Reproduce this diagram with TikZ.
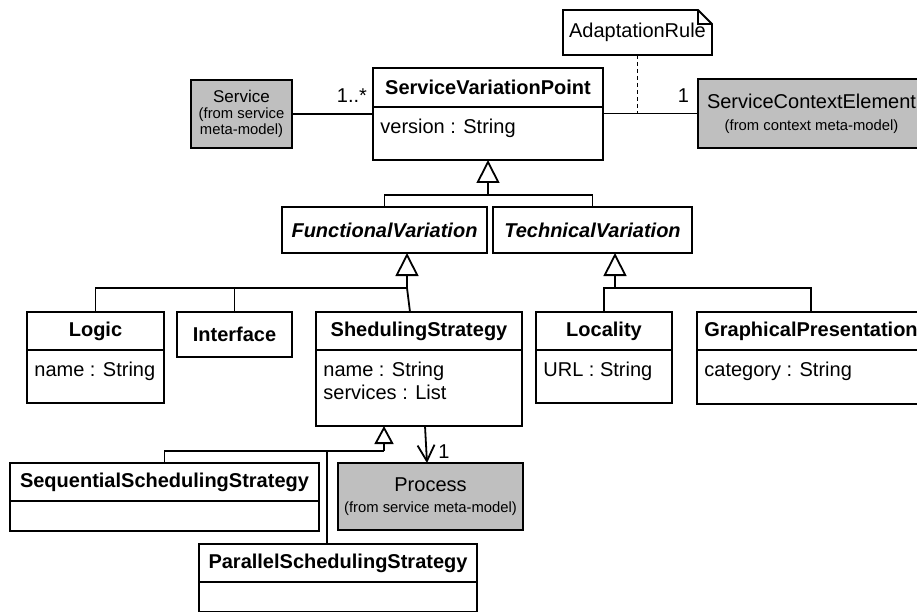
\documentclass[tikz,border=0pt]{standalone}
\usepackage{fontspec}
\setmainfont{Liberation Sans}
\usetikzlibrary{arrows.meta,positioning}

\begin{document}
\begin{tikzpicture}[x=1pt,y=-1pt,line width=1.8pt,
  every node/.style={font=\fontsize{20}{23}\selectfont,inner sep=3pt},
  hd/.style={draw,fill=white,outer sep=0pt,minimum height=38,font=\fontsize{20}{23}\selectfont\bfseries},
  abs/.style={hd,minimum height=46,font=\fontsize{20}{23}\selectfont\bfseries\itshape},
  bd/.style={draw,fill=white,outer sep=0pt},
  attr/.style={anchor=north west,inner xsep=6.5pt,inner ysep=11pt,align=left},
  ext/.style={draw,fill=black!25,outer sep=0pt,align=center,font=\fontsize{14.8}{16}\selectfont},
  gen/.style={-{Triangle[open,length=23pt,width=23pt]}},
  gensm/.style={-{Triangle[open,length=18pt,width=19pt]}},
  assoc/.style={-{Straight Barb[length=16pt,width=17pt]}}]
 \useasboundingbox (0,0) rectangle (917,612);
 \clip (0,0) rectangle (917,612);
 % root of the variation points
 \node[hd,minimum width=230,minimum height=39] (SVP) at (488,87.5) {ServiceVariationPoint};
 \node[bd,minimum width=230,minimum height=53,below=0pt of SVP,label={[attr]north west:{version : String}}] (SVPB) {};
 \node[ext,minimum width=101,minimum height=68] (Service) at (241.5,114) {{\fontsize{17}{17}\selectfont Service}\\(from service\\meta-model)};
 \node[ext,minimum width=227,minimum height=69] (SCE) at (811.5,113.5) {{\fontsize{20}{20}\selectfont ServiceContextElement}\\[6pt](from context meta-model)};
 \node[minimum width=149,minimum height=45,outer sep=0pt] (AR) at (637.5,32.5) {AdaptationRule};
 \draw (AR.north west) -- ([xshift=-14pt]AR.north east) -- ([yshift=-14pt]AR.north east) -- (AR.south east) -- (AR.south west) -- cycle;
 \draw ([xshift=-14pt]AR.north east) -- ++(0,14) -- ([yshift=-14pt]AR.north east);
 \node (m1) at (352,96) {1..*};
 \node (m2) at (683.5,96) {1};
 % abstract variations
 \node[abs,minimum width=205] (FV) at (384.5,230) {FunctionalVariation};
 \node[abs,minimum width=199] (TV) at (592.5,230) {TechnicalVariation};
 % concrete variations
 \node[hd,minimum width=137] (Logic) at (95.5,331) {Logic};
 \node[bd,minimum width=137,minimum height=53,below=0pt of Logic,label={[attr]north west:{name : String}}] (LogicB) {};
 \node[hd,minimum width=115,minimum height=45] (Interface) at (234.5,334.5) {Interface};
 \node[hd,minimum width=206] (SS) at (419,331) {ShedulingStrategy};
 \node[bd,minimum width=206,minimum height=76,below=0pt of SS,label={[attr]north west:{name : String\\services : List}}] (SSB) {};
 \node[hd,minimum width=136] (Locality) at (604,331) {Locality};
 \node[bd,minimum width=136,minimum height=53,below=0pt of Locality,label={[attr]north west:{URL : String}}] (LocalityB) {};
 \node[hd,minimum width=228] (GP) at (811,331) {GraphicalPresentation};
 \node[bd,minimum width=228,minimum height=54,below=0pt of GP,label={[attr]north west:{category : String}}] (GPB) {};
 % scheduling strategies
 \node[hd,minimum width=309] (Seq) at (164.5,482) {SequentialSchedulingStrategy};
 \node[bd,minimum width=309,minimum height=30,below=0pt of Seq] (SeqB) {};
 \node[hd,minimum width=278] (Par) at (338,563) {ParallelSchedulingStrategy};
 \node[bd,minimum width=278,minimum height=30,below=0pt of Par] (ParB) {};
 \node[ext,minimum width=185,minimum height=67] (Process) at (430.5,496.5) {{\fontsize{20}{20}\selectfont Process}\\[5pt](from service meta-model)};
 \node (m3) at (444,452) {1};
 % associations
 \draw (Service.east) -- (Service.east -| SVPB.west);
 \draw (SCE.west) -- (SCE.west -| SVPB.east);
 \draw[dash pattern=on 4pt off 3pt] (AR.south) -- (AR.south |- SCE.west);
 \draw[assoc] ([xshift=6pt]SSB.south) -- ([xshift=-3.5pt]Process.north);
 % generalizations
 \coordinate (j1) at (488,195);
 \coordinate (j2) at (407,288);
 \coordinate (j3) at (615,288);
 \coordinate (j4) at (384,451);
 \coordinate (j5) at (327,451);
 \draw[gen] (j1) -- (SVPB.south);
 \draw (FV.north) |- (j1) -| (TV.north);
 \draw[gen] (j2) -- (j2 |- FV.south);
 \foreach \c in {Logic,Interface}
   \draw (\c.north) |- (j2);
 \draw (j2) -- ([xshift=-9pt]SS.north);
 \draw[gen] (j3) -- (j3 |- TV.south);
 \draw (Locality.north) |- (j3) -| (GP.north);
 \draw[gensm] (j4) -- (j4 |- SSB.south);
 \draw (Seq.north) |- (j4);
 \draw (j5) -- (j5 |- Par.north);
\end{tikzpicture}
\end{document}
